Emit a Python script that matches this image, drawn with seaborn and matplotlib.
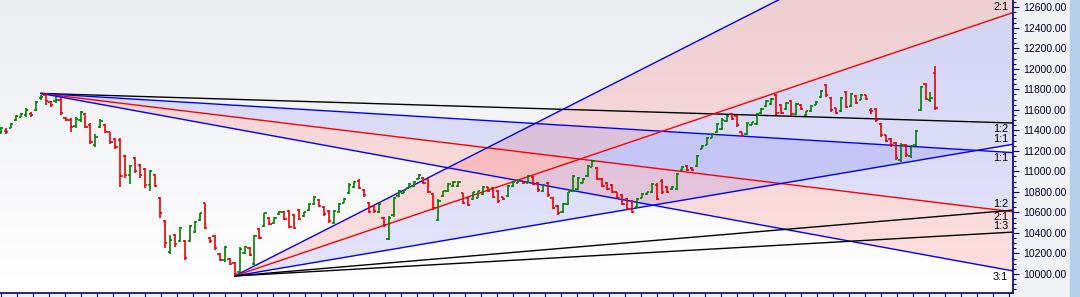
import numpy as np
import pandas as pd
import matplotlib
matplotlib.use("Agg")
import matplotlib.pyplot as plt
import seaborn as sns
from matplotlib.ticker import MultipleLocator, FormatStrFormatter
from matplotlib.patches import Rectangle
from matplotlib.colors import LinearSegmentedColormap

# ---------------- data ----------------
opens = [11385,11395,11425,11500,11535,11545,11560,11600,11715,11740,
         11680,11685,11700,11525,11505,11445,11500,11555,11455,11255,
         11435,11450,11380,11320,11310,11150,10960,11130,11060,11020,
         10870,10960,10740,10515,10210,10375,10325,10320,10325,10410,
         10525,10690,10350,10370,10195,10135,10145,10110,10020,10205,
         10255,10100,10440,10465,10550,10495,10580,10605,10615,10570,
         10620,10565,10625,10680,10720,10655,10615,10500,10600,10695,
         10785,10845,10910,10815,10695,10665,10600,10550,10345,10570,
         10760,10790,10840,10860,10930,10940,10925,10775,10530,10760,
         10810,10860,10855,10785,10745,10730,10745,10780,10845,10835,
         10810,10750,10760,10860,10890,10905,10890,10945,10890,10810,
         10890,10745,10665,10605,10680,10810,10830,10890,10955,11045,
         11030,10925,10890,10870,10795,10765,10730,10710,10650,10740,
         10775,10795,10870,10910,10850,10825,10825,11010,11055,11035,
         11050,11220,11262,11328,11385,11410,11490,11560,11540,11380,
         11365,11455,11460,11565,11640,11655,11740,11645,11605,11685,
         11560,11645,11550,11590,11652,11725,11840,11720,11615,11590,
         11775,11640,11735,11700,11740,11595,11605,11460,11350,11315,
         11275,11110,11255,11145,11260,11600,11850,11700,11960]
highs = [11436,11420,11468,11550,11566,11615,11575,11686,11745,11760,
         11690,11728,11712,11533,11517,11533,11588,11566,11468,11361,
         11507,11458,11387,11329,11329,11159,11062,11143,11068,11030,
         11013,10971,10753,10526,10380,10386,10461,10331,10478,10517,
         10598,10696,10358,10380,10201,10273,10153,10120,10260,10273,
         10266,10380,10445,10598,10559,10559,10614,10614,10624,10582,
         10630,10608,10689,10761,10728,10663,10624,10624,10689,10738,
         10884,10910,10923,10826,10705,10673,10689,10559,10560,10754,
         10819,10819,10884,10910,10975,10949,10933,10786,10728,10812,
         10884,10910,10910,10793,10754,10803,10813,10858,10851,10845,
         10819,10754,10868,10910,10923,10910,10965,10955,10900,10877,
         10900,10754,10673,10689,10803,10965,10948,10932,11062,11111,
         11040,10932,10900,10877,10802,10776,10737,10721,10737,10786,
         10802,10883,10883,10922,10857,10857,10981,11052,11062,11040,
         11160,11257,11332,11371,11475,11517,11550,11566,11550,11387,
         11485,11485,11566,11621,11696,11719,11751,11654,11673,11696,
         11664,11654,11589,11648,11686,11794,11849,11729,11621,11729,
         11784,11761,11745,11752,11745,11621,11615,11469,11355,11323,
         11284,11274,11264,11257,11404,11836,11859,11771,12031]
lows = [11361,11361,11420,11491,11527,11533,11527,11588,11696,11647,
        11631,11663,11550,11491,11387,11426,11478,11426,11264,11241,
        11426,11371,11264,11218,10851,10932,10873,10980,10939,10841,
        10809,10851,10542,10250,10191,10266,10315,10136,10315,10396,
        10517,10436,10306,10234,10130,10120,10088,9980,10013,10195,
        10175,10088,10338,10455,10478,10488,10575,10526,10445,10436,
        10526,10559,10617,10673,10650,10566,10500,10488,10592,10689,
        10777,10835,10825,10754,10592,10598,10592,10461,10330,10559,
        10754,10786,10835,10852,10923,10878,10786,10624,10520,10754,
        10803,10852,10845,10682,10663,10722,10738,10770,10803,10738,
        10696,10722,10754,10852,10884,10878,10884,10868,10803,10803,
        10754,10630,10575,10598,10673,10802,10818,10883,10948,11040,
        10916,10851,10818,10786,10737,10672,10623,10591,10640,10737,
        10770,10786,10721,10780,10792,10818,10818,11007,11007,11007,
        11046,11215,11257,11322,11378,11403,11485,11501,11436,11338,
        11355,11452,11452,11557,11631,11647,11550,11557,11599,11544,
        11550,11599,11544,11583,11648,11719,11729,11583,11557,11583,
        11615,11631,11654,11696,11696,11557,11485,11339,11284,11241,
        11111,11095,11144,11134,11251,11589,11696,11680,11599]
closes = [11425,11380,11460,11540,11560,11600,11550,11675,11725,11685,
          11645,11695,11570,11500,11430,11515,11575,11435,11285,11340,
          11495,11385,11290,11240,10950,10960,11050,11005,10960,10870,
          11000,10860,10590,10300,10330,10290,10450,10160,10470,10505,
          10590,10445,10320,10250,10140,10260,10100,10000,10240,10265,
          10185,10370,10350,10590,10490,10550,10605,10535,10460,10450,
          10540,10600,10680,10750,10660,10580,10515,10610,10680,10730,
          10870,10900,10835,10765,10605,10610,10680,10475,10545,10740,
          10810,10815,10875,10900,10965,10885,10800,10640,10715,10805,
          10875,10900,10900,10695,10675,10795,10805,10850,10810,10750,
          10710,10730,10860,10900,10915,10885,10955,10880,10815,10870,
          10770,10645,10590,10680,10795,10950,10935,10925,11050,11100,
          10930,10860,10830,10800,10745,10685,10635,10605,10730,10780,
          10795,10875,10735,10795,10800,10850,10970,11045,11015,11012,
          11150,11250,11325,11365,11465,11505,11540,11510,11450,11345,
          11475,11480,11555,11610,11690,11710,11565,11570,11665,11560,
          11655,11605,11585,11640,11680,11785,11740,11595,11565,11720,
          11630,11750,11665,11745,11705,11590,11500,11355,11295,11255,
          11130,11260,11160,11245,11395,11825,11710,11720,11620]

# Gann fans: pivot (bar index, price) and 1:1 slope (price per bar)
high_pivot_bar, high_pivot_price, high_unit = 8, 11760, -2.95
low_pivot_bar, low_pivot_price, low_unit = 47, 9980, 8.2
high_fan = [("1:2", 0.5, "black"), ("1:1", 1.0, "blue"), ("2:1", 2.0, "red"), ("3:1", 3.0, "blue")]
low_fan = [("3:1", 3.0, "blue"), ("2:1", 2.0, "red"), ("1:1", 1.0, "blue"),
           ("1:2", 0.5, "black"), ("1:3", 1 / 3, "black")]
y_ticks = list(range(10000, 12601, 200))

# ---------------- figure ----------------
sns.set_theme(style="white")
plt.rcParams["font.family"] = ["Liberation Sans", "DejaVu Sans"]
W, H = 1080, 297
fig = plt.figure(figsize=(W / 100, H / 100), dpi=100, facecolor="#f1f2f5")
ax = fig.add_axes([0, 4 / H, 1013 / W, 1 - 4 / H])
fig.patches.append(Rectangle((1070 / W, 0), 10 / W, 1, transform=fig.transFigure,
                             color="#b4cfe8", zorder=0))

x_lo, x_hi = -0.2, 203.6
y_lo, y_hi = 9814, 12671
ax.set_xlim(x_lo, x_hi)
ax.set_ylim(y_lo, y_hi)

# background gradient (grey at top, white at bottom)
grad = np.linspace(0, 1, 256).reshape(-1, 1)
cmap = LinearSegmentedColormap.from_list("bg", ["#ecedf1", "#ffffff"])
ax.imshow(grad, extent=[x_lo, x_hi, y_lo, y_hi], origin="upper", aspect="auto",
          cmap=cmap, zorder=0)


def fan_rows(name, pbar, pprice, unit, fan):
    rows = []
    for lab, r, col in fan:
        for xx in (pbar, x_hi):
            rows.append({"line": f"{name} {lab}", "x": xx,
                         "y": pprice + r * unit * (xx - pbar), "color": col,
                         "lab": lab})
    return rows


df = pd.DataFrame(fan_rows("H", high_pivot_bar, high_pivot_price, high_unit, high_fan) +
                  fan_rows("L", low_pivot_bar, low_pivot_price, low_unit, low_fan))


def fan_y(pbar, pprice, unit, r, xs):
    return pprice + r * unit * (xs - pbar)


pink = (1.0, 0.0, 0.0, 0.12)
lav = (0.0, 0.0, 1.0, 0.10)
xs_l = np.array([low_pivot_bar, x_hi])
ax.fill_between(xs_l, fan_y(low_pivot_bar, low_pivot_price, low_unit, 3, xs_l),
                fan_y(low_pivot_bar, low_pivot_price, low_unit, 2, xs_l), color=pink, lw=0, zorder=1)
ax.fill_between(xs_l, fan_y(low_pivot_bar, low_pivot_price, low_unit, 2, xs_l),
                fan_y(low_pivot_bar, low_pivot_price, low_unit, 1, xs_l), color=lav, lw=0, zorder=1)
xs_h = np.array([high_pivot_bar, x_hi])
ax.fill_between(xs_h, fan_y(high_pivot_bar, high_pivot_price, high_unit, 1, xs_h),
                fan_y(high_pivot_bar, high_pivot_price, high_unit, 2, xs_h), color=lav, lw=0, zorder=1)
ax.fill_between(xs_h, fan_y(high_pivot_bar, high_pivot_price, high_unit, 2, xs_h),
                fan_y(high_pivot_bar, high_pivot_price, high_unit, 3, xs_h), color=pink, lw=0, zorder=1)

palette = {ln: c for ln, c in zip(df["line"], df["color"])}
sns.lineplot(data=df, x="x", y="y", hue="line", palette=palette, estimator=None,
             sort=False, legend=False, lw=1.0, ax=ax, zorder=2)

# fan labels at right edge
for name, grp in df.groupby("line", sort=False):
    yend = grp["y"].iloc[-1]
    if not (y_lo < yend < y_hi):
        continue
    up = name.startswith("L")
    ax.annotate(grp["lab"].iloc[0], (x_hi, yend), xytext=(-3.5, 0.5 if up else -0.5),
                textcoords="offset points", ha="right", va="bottom" if up else "top",
                fontsize=7.8, color="black", zorder=5, annotation_clip=False)

# OHLC bars
xb = np.arange(len(opens))
o = np.array(opens)
c = np.array(closes)
cols = np.where(c >= o, "#008000", "#ee0000")
ax.vlines(xb, lows, highs, colors=cols, lw=1.2, zorder=3)
ax.hlines(o, xb - 0.45, xb, colors=cols, lw=1.2, zorder=3)
ax.hlines(c, xb, xb + 0.45, colors=cols, lw=1.2, zorder=3)

# axes styling
for s in ["left", "top"]:
    ax.spines[s].set_visible(False)
for s in ["right", "bottom"]:
    ax.spines[s].set_visible(True)
    ax.spines[s].set_color("#000080")
    ax.spines[s].set_linewidth(1.2)
ax.yaxis.tick_right()
ax.set_yticks(y_ticks)
ax.yaxis.set_major_formatter(FormatStrFormatter("%.2f"))
ax.yaxis.set_minor_locator(MultipleLocator(50))
ax.tick_params(axis="y", which="major", direction="out", length=4, width=0.8,
               color="#000080", labelsize=7.5, labelcolor="#000030", pad=3, right=True, left=False)
ax.tick_params(axis="y", which="minor", direction="out", length=2, width=0.8,
               color="#000080", right=True, left=False)
ax.xaxis.set_major_locator(MultipleLocator(3.22))
ax.tick_params(axis="x", which="major", direction="out", length=4, width=0.8,
               color="#000080", labelbottom=False, bottom=True)
ax.set_xlabel("")
ax.set_ylabel("")
ax.grid(False)

fig.savefig("out.png", dpi=100, facecolor=fig.get_facecolor())
